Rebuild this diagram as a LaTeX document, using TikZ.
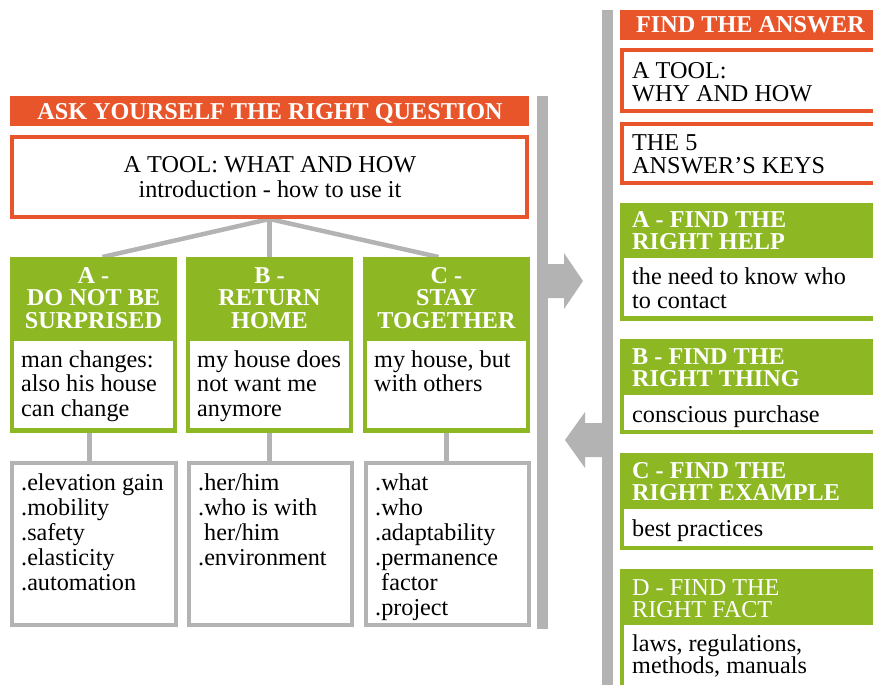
\documentclass[tikz,border=0pt]{standalone}
\usepackage{fontspec}
\setmainfont{Liberation Serif}
\usetikzlibrary{calc,backgrounds}
\definecolor{orng}{HTML}{E8552B}
\definecolor{grn}{HTML}{8DB824}
\definecolor{gry}{HTML}{B3B3B3}
% stacked lines with a fixed baseline distance; baseline = first line
\newcommand\stackl[2]{\vtop{\fontsize{24.2}{#1}\selectfont\lineskiplimit=-100pt\halign{##\hfil\cr#2\crcr}}}
\newcommand\stackc[2]{\vtop{\fontsize{24.2}{#1}\selectfont\lineskiplimit=-100pt\halign{\hfil##\hfil\cr#2\crcr}}}
\begin{document}
\begin{tikzpicture}[x=1pt,y=-1pt,
  every node/.style={inner sep=0pt},
  obar/.style={fill=orng, outer sep=0pt, anchor=north west},
  gfill/.style={fill=grn, outer sep=0pt, anchor=north west},
  wfill/.style={fill=white, outer sep=0pt, anchor=north west},
  barfill/.style={fill=gry, outer sep=0pt, anchor=north west},
  oframe/.style={draw=orng, fill=white, line width=4pt, outer sep=2pt, anchor=north west},
  gframe/.style={draw=gry, fill=white, line width=4pt, outer sep=2pt, anchor=north west},
  txt/.style={font=\fontsize{24.2}{24}\selectfont, text=black},
  htxt/.style={font=\fontsize{24.2}{24}\selectfont\bfseries, text=white},
  hltxt/.style={font=\fontsize{24.2}{24}\selectfont, text=white},
  conn/.style={draw=gry, line width=4.5pt},
  conv/.style={draw=gry, line width=5pt}]
\useasboundingbox (0,0) rectangle (873,685);

% ---------- left part: ask yourself the right question ----------
\node[obar, minimum width=519pt, minimum height=30pt] (askbar) at (10,96) {};
\node[htxt, anchor=base] (asktxt) at (270,119) {ASK YOURSELF THE RIGHT QUESTION};
\node[barfill, minimum width=11pt, minimum height=533pt] (lbar) at (537,96) {};

\node[oframe, minimum width=515pt, minimum height=80pt] (tool) at (10,135) {};
\node[txt, anchor=base] (tooltxt) at (270,172)
  {\stackc{25}{A TOOL: WHAT AND HOW\cr introduction - how to use it}};

% three green question boxes
\node[gfill, minimum width=167pt, minimum height=176pt] (ga) at (10,257) {};
\node[gfill, minimum width=167pt, minimum height=176pt] (gb) at (186,257) {};
\node[gfill, minimum width=167pt, minimum height=176pt] (gc) at (363,257) {};
\node[wfill, minimum width=159pt, minimum height=87pt] (wa) at (14,341) {};
\node[wfill, minimum width=159pt, minimum height=87pt] (wb) at (190,341) {};
\node[wfill, minimum width=159pt, minimum height=87pt] (wc) at (367,341) {};

\node[htxt, anchor=base] (gatxt) at (ga.north |- 0,283) {\stackc{22.5}{A -\cr DO NOT BE\cr SURPRISED}};
\node[htxt, anchor=base] (gbtxt) at (gb.north |- 0,283) {\stackc{22.5}{B -\cr RETURN\cr HOME}};
\node[htxt, anchor=base] (gctxt) at (gc.north |- 0,283) {\stackc{22.5}{C -\cr STAY\cr TOGETHER}};

\node[txt, anchor=base west] (watxt) at (21,367) {\stackl{24.5}{man changes:\cr also his house\cr can change}};
\node[txt, anchor=base west] (wbtxt) at (197,367) {\stackl{24.5}{my house does\cr not want me\cr anymore}};
\node[txt, anchor=base west] (wctxt) at (374,367) {\stackl{24.5}{my house, but\cr with others}};

% three grey detail boxes
\node[gframe, minimum width=164pt, minimum height=162pt] (ba) at (10,461) {};
\node[gframe, minimum width=163pt, minimum height=162pt] (bb) at (187,461) {};
\node[gframe, minimum width=163pt, minimum height=162pt] (bc) at (364,461) {};

\node[txt, anchor=base west] (batxt) at (21,490)
  {\stackl{25}{.elevation gain\cr .mobility\cr .safety\cr .elasticity\cr .automation}};
\node[txt, anchor=base west] (bbtxt) at (198,490)
  {\stackl{25}{.her/him\cr .who is with\cr \hspace*{6pt}her/him\cr .environment}};
\node[txt, anchor=base west] (bctxt) at (375,490)
  {\stackl{25}{.what\cr .who\cr .adaptability\cr .permanence\cr \hspace*{6pt}factor\cr .project}};

% ---------- right part: find the answer ----------
\node[barfill, minimum width=11pt, minimum height=680pt] (rbar) at (602,10) {};
\node[obar, minimum width=270pt, minimum height=30pt] (ansbar) at (620,10) {};
\node[htxt, anchor=base west] (anstxt) at (636,33) {FIND THE ANSWER};

\node[oframe, minimum width=270pt, minimum height=61pt] (why) at (620,48) {};
\node[txt, anchor=base west] (whytxt) at (632,78) {\stackl{23}{A TOOL:\cr WHY AND HOW}};
\node[oframe, minimum width=270pt, minimum height=59pt] (keys) at (620,122) {};
\node[txt, anchor=base west] (keystxt) at (632,150) {\stackl{23}{THE 5\cr ANSWER’S KEYS}};

\node[gfill, minimum width=270pt, minimum height=118pt] (ra) at (620,203) {};
\node[wfill, minimum width=270pt, minimum height=58pt] (rwa) at (624,258) {};
\node[htxt, anchor=base west] (ratxt) at (632,227) {\stackl{22}{A - FIND THE\cr RIGHT HELP}};
\node[txt, anchor=base west] (rwatxt) at (632,284) {\stackl{24}{the need to know who\cr to contact}};

\node[gfill, minimum width=270pt, minimum height=95pt] (rb) at (620,339) {};
\node[wfill, minimum width=270pt, minimum height=35pt] (rwb) at (624,395) {};
\node[htxt, anchor=base west] (rbtxt) at (632,364) {\stackl{22}{B - FIND THE\cr RIGHT THING}};
\node[txt, anchor=base west] (rwbtxt) at (632,422) {conscious purchase};

\node[gfill, minimum width=270pt, minimum height=97pt] (rc) at (620,453) {};
\node[wfill, minimum width=270pt, minimum height=37pt] (rwc) at (624,509) {};
\node[htxt, anchor=base west] (rctxt) at (632,478) {\stackl{22}{C - FIND THE\cr RIGHT EXAMPLE}};
\node[txt, anchor=base west] (rwctxt) at (632,536) {best practices};

\node[gfill, minimum width=270pt, minimum height=130pt] (rd) at (620,569) {};
\node[wfill, minimum width=270pt, minimum height=80pt] (rwd) at (624,625) {};
\node[hltxt, anchor=base west] (rdtxt) at (632,595) {\stackl{22}{D - FIND THE\cr RIGHT FACT}};
\node[txt, anchor=base west] (rwdtxt) at (632,651) {\stackl{22}{laws, regulations,\cr methods, manuals}};

% ---------- connectors and arrows ----------
\begin{scope}[on background layer]
  \coordinate (forka) at ($(ga.north)+(9,0)$);
  \coordinate (forkc) at ($(gc.north)+(-8,0)$);
  \draw[conn] (tool.south) -- (forka);
  \draw[conn] (tool.south) -- (gb.north);
  \draw[conn] (tool.south) -- (forkc);
  \draw[conv] ($(ga.south)+(-4,0)$) -- ($(ba.north)+(-4.5,0)$);
  \draw[conv] (gb.south) -- (gb.south |- bb.north);
  \draw[conv] (gc.south) -- (gc.south |- bc.north);
\end{scope}

% arrow from the question side to the answer side
\fill[gry] (lbar.east |- 0,264) -- (564,264) -- (564,253) -- (583,281)
  -- (564,309) -- (564,298) -- (lbar.east |- 0,298) -- cycle;
% arrow back from the answer side
\fill[gry] (rbar.west |- 0,423) -- (585,423) -- (585,412) -- (565,440)
  -- (585,468) -- (585,457) -- (rbar.west |- 0,457) -- cycle;
\end{tikzpicture}
\end{document}
